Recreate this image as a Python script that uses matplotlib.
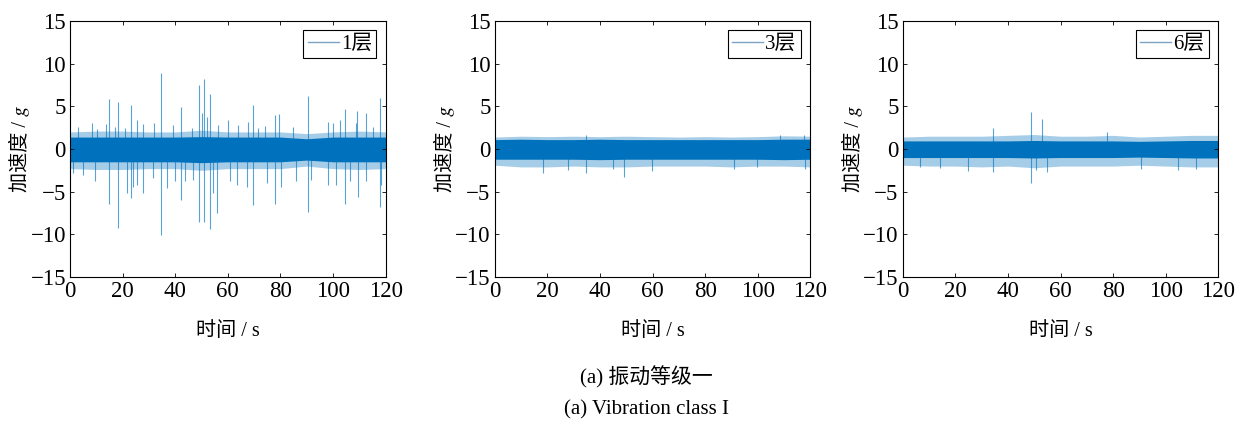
import matplotlib
matplotlib.use("Agg")
import matplotlib.pyplot as plt
import numpy as np

plt.rcParams['font.family'] = ['Liberation Serif', 'Noto Sans CJK SC', 'STIXGeneral']

# envelope of the dense band, read every 10 s (0..120)
env_t = [0, 10, 20, 30, 40, 50, 60, 70, 80, 90, 100, 110, 120]

# floor 1
core1_hi = [1.4, 1.4, 1.4, 1.4, 1.4, 1.45, 1.4, 1.4, 1.4, 1.2, 1.4, 1.4, 1.4]
core1_lo = [-1.5, -1.5, -1.5, -1.5, -1.5, -1.6, -1.5, -1.5, -1.5, -1.3, -1.5, -1.5, -1.5]
edge1_hi = [2.0, 2.1, 2.1, 2.0, 2.0, 2.2, 2.0, 2.0, 2.0, 1.8, 2.0, 2.1, 2.0]
edge1_lo = [-2.3, -2.4, -2.4, -2.3, -2.3, -2.5, -2.3, -2.3, -2.3, -2.0, -2.3, -2.4, -2.3]
spike1_t = [14.9, 18.4, 23.3, 34.7, 42.3, 49.0, 50.9, 53.2, 69.6, 78.1, 79.3, 90.6, 104.4, 109.0, 112.7, 117.7,
            3.2, 8.2, 10.1, 13.7, 17.1, 20.9, 25.3, 27.8, 31.9, 39.2, 46.2, 50.0, 52.0, 56.4, 60.1, 64.0,
            67.8, 71.6, 74.2, 84.8, 98.1, 100.0, 102.5, 108.9, 115.2]
spike1_v = [5.9, 5.55, 5.15, 8.95, 4.9, 7.45, 8.15, 6.4, 5.15, 4.0, 4.1, 6.2, 4.7, 4.5, 4.2, 5.95,
            2.6, 3.0, 2.4, 2.9, 2.6, 2.5, 3.4, 2.9, 3.1, 2.8, 2.5, 4.2, 3.8, 2.8, 3.4, 2.8,
            3.2, 2.5, 2.7, 2.6, 3.2, 3.0, 3.4, 3.0, 2.6]
dip1_t = [14.9, 18.4, 23.3, 34.7, 42.3, 49.0, 50.9, 53.2, 55.7, 69.6, 78.1, 90.6, 104.4, 117.7,
          1.3, 4.9, 9.5, 21.5, 23.9, 25.3, 27.8, 31.6, 36.7, 39.8, 43.7, 46.8, 54.4, 60.7, 63.3,
          67.1, 74.7, 80.4, 86.1, 91.8, 98.1, 101.3, 106.3, 109.5, 112.7, 118.4]
dip1_v = [-6.4, -9.3, -5.8, -10.1, -6.0, -8.5, -8.5, -9.4, -7.55, -6.55, -6.4, -7.35, -6.4, -6.75,
          -2.85, -3.0, -3.8, -5.2, -4.4, -4.2, -5.2, -3.4, -4.6, -3.8, -3.8, -3.6, -5.2, -3.8, -4.2,
          -4.4, -4.0, -4.4, -3.8, -3.6, -4.2, -4.2, -3.8, -5.6, -3.8, -4.2]

# floor 3
core3_hi = [1.1, 1.15, 1.1, 1.1, 1.15, 1.1, 1.1, 1.1, 1.1, 1.1, 1.1, 1.15, 1.15]
core3_lo = [-1.2, -1.2, -1.2, -1.2, -1.25, -1.2, -1.2, -1.2, -1.2, -1.2, -1.2, -1.25, -1.2]
edge3_hi = [1.4, 1.5, 1.45, 1.5, 1.45, 1.5, 1.45, 1.4, 1.45, 1.4, 1.45, 1.55, 1.5]
edge3_lo = [-1.9, -2.1, -2.1, -2.0, -2.1, -2.1, -2.0, -2.0, -2.0, -2.1, -2.0, -2.0, -2.1]
spike3_t = [34.7, 108.6, 117.5]
spike3_v = [1.6, 1.65, 1.6]
dip3_t = [18.2, 27.7, 34.7, 44.8, 49.1, 59.7, 90.8, 99.7, 118.1]
dip3_v = [-2.8, -2.5, -2.8, -2.4, -3.3, -2.6, -2.3, -2.1, -2.4]

# floor 6
core6_hi = [0.95, 0.95, 0.95, 0.95, 0.95, 1.0, 0.95, 0.95, 0.95, 0.9, 0.95, 1.0, 1.0]
core6_lo = [-1.0, -1.0, -1.0, -1.0, -1.0, -1.05, -1.0, -1.0, -1.0, -0.95, -1.0, -1.05, -1.05]
edge6_hi = [1.4, 1.5, 1.5, 1.5, 1.6, 1.7, 1.5, 1.5, 1.6, 1.4, 1.5, 1.6, 1.6]
edge6_lo = [-1.9, -2.0, -2.0, -2.1, -2.0, -2.2, -2.0, -2.0, -2.0, -1.9, -2.0, -2.1, -2.1]
spike6_t = [48.9, 53.0, 34.3, 77.8]
spike6_v = [4.3, 3.5, 2.5, 2.0]
dip6_t = [48.9, 34.3, 6.5, 14.1, 25.0, 50.8, 54.9, 90.6, 104.6, 111.7]
dip6_v = [-4.0, -2.65, -2.15, -2.2, -2.55, -2.45, -2.65, -2.3, -2.45, -2.3]

panels = [
    ('1层', core1_hi, core1_lo, edge1_hi, edge1_lo, spike1_t, spike1_v, dip1_t, dip1_v),
    ('3层', core3_hi, core3_lo, edge3_hi, edge3_lo, spike3_t, spike3_v, dip3_t, dip3_v),
    ('6层', core6_hi, core6_lo, edge6_hi, edge6_lo, spike6_t, spike6_v, dip6_t, dip6_v),
]

blue = '#0072BD'
fig = plt.figure(figsize=(12.4, 4.22), dpi=100)
lefts = [0.0565, 0.399, 0.728]

for left, (name, chi, clo, ehi, elo, st, sv, dt, dv) in zip(lefts, panels):
    ax = fig.add_axes([left, 0.3436, 0.2545, 0.6066])
    ax.fill_between(env_t, elo, ehi, color=blue, alpha=0.35, lw=0)
    ax.fill_between(env_t, clo, chi, color=blue, lw=0)
    ax.vlines(st, 0, sv, color=blue, lw=0.8, alpha=0.65)
    ax.vlines(dt, 0, dv, color=blue, lw=0.8, alpha=0.65)
    ax.plot([], [], color='#7fa3c0', lw=1.0, label=name)
    ax.set_xlim(0, 120)
    ax.set_ylim(-15, 15)
    ax.set_xticks(range(0, 121, 20))
    ax.set_yticks(range(-15, 16, 5))
    ax.tick_params(direction='in', top=True, right=True, length=3, width=0.6,
                   labelsize=16.5, pad=3)
    for sp in ax.spines.values():
        sp.set_linewidth(0.8)
    ax.set_xlabel('时间 / s', fontsize=14.5, labelpad=14)
    ax.set_ylabel('加速度 / \U0001D454', fontsize=14.5, labelpad=0)
    leg = ax.legend(loc='upper right', fontsize=15, handlelength=1.5, handletextpad=0.1,
                    borderpad=0.2, borderaxespad=0.45, fancybox=False, framealpha=1)
    leg.get_frame().set_edgecolor('black')
    leg.get_frame().set_linewidth(0.8)

fig.text(0.5215, 0.107, '(a) 振动等级一', ha='center', va='center', fontsize=15)
fig.text(0.5215, 0.028, '(a) Vibration class I', ha='center', va='center', fontsize=15)

fig.savefig('out.png', dpi=100)
